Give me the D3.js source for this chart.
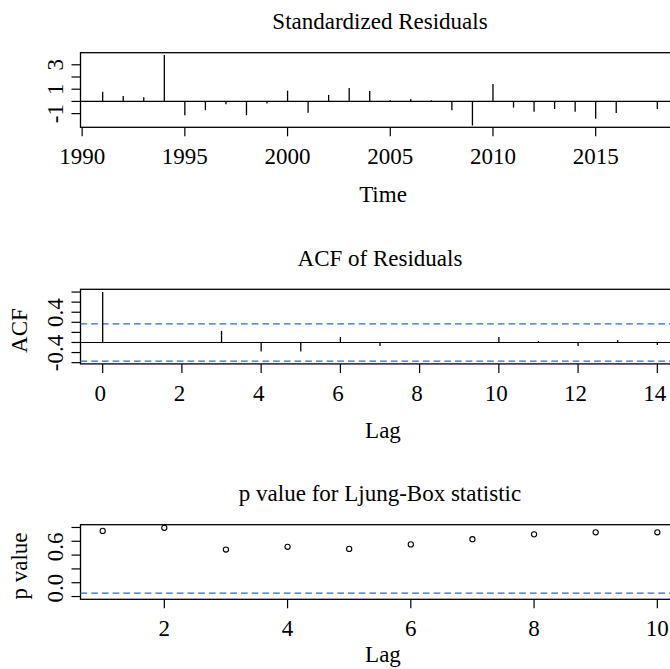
<!DOCTYPE html>
<html>
<head>
<meta charset="utf-8">
<script src="https://cdn.jsdelivr.net/npm/d3@7"></script>
<style>
  body { margin: 0; background: #fff; }
  text { font-family: "Liberation Serif", "Times New Roman", "DejaVu Serif", serif; fill: #000; }
</style>
</head>
<body>
<div id="chart"></div>
<script>
// ---- data ----
var years = d3.range(1991, 2019);
var stdResid = [0.80, 0.45, 0.34, 3.80, -1.13, -0.72, -0.23, -1.13, -0.17, 0.88,
                -0.92, 0.53, 1.10, 0.85, 0.09, 0.20, 0.09, -0.72, -1.98, 1.43,
                -0.51, -0.84, -0.62, -0.84, -1.41, -0.94, 0.02, -0.62];
var residTicks = [-1, 0, 1, 2, 3];
var residLabels = [-1, 1, 3];
var yearTicks = [1990, 1995, 2000, 2005, 2010, 2015];

var acfLags = d3.range(0, 15);
var acfValues = [1.0, 0.01, -0.01, 0.23, -0.18, -0.18, 0.11, -0.07, 0.005, -0.01,
                 0.11, 0.03, -0.07, 0.05, -0.05];
var acfBound = 0.37;            // 1.96/sqrt(n)
var acfTicks = [-0.4, -0.2, 0, 0.2, 0.4, 0.6, 0.8, 1.0];
var acfLabels = [-0.4, 0.4];
var acfLagTicks = [0, 2, 4, 6, 8, 10, 12, 14];

var pLags = d3.range(1, 11);
var pValues = [0.95, 0.995, 0.68, 0.72, 0.69, 0.755, 0.83, 0.90, 0.93, 0.93];
var pTicks = [0, 0.2, 0.4, 0.6, 0.8, 1.0];
var pLabels = [0.0, 0.6];
var pLagTicks = [2, 4, 6, 8, 10];
var pLevel = 0.05;

// ---- layout ----
var W = 670, H = 669;
var left = 80.5, right = 679.5;     // plot box runs past the window on the right
var boxH = 74.6;
var fs = 23;

var svg = d3.select("#chart").append("svg")
    .attr("width", W).attr("height", H);
svg.append("rect").attr("width", W).attr("height", H).attr("fill", "#fff");

function pad(lo, hi) { var r = hi - lo; return [lo - 0.04 * r, hi + 0.04 * r]; }

function panel(top, xdom, ydom, opt) {
    var x = d3.scaleLinear().domain(xdom).range([left, right]);
    var y = d3.scaleLinear().domain(ydom).range([top + boxH, top]);
    var g = svg.append("g");

    // title
    g.append("text").attr("x", (left + right) / 2).attr("y", top - 23.4)
        .attr("text-anchor", "middle").style("font-size", fs + "px").text(opt.title);

    // x axis
    var xa = g.append("g").attr("transform", "translate(0," + (top + boxH) + ")");
    opt.xticks.forEach(function (t) {
        xa.append("line").attr("x1", x(t)).attr("x2", x(t)).attr("y1", 0).attr("y2", 9)
            .attr("stroke", "#000").attr("stroke-width", 1.2);
        xa.append("text").attr("x", x(t) + (opt.xshift || 0)).attr("y", 37)
            .attr("text-anchor", "middle").style("font-size", fs + "px").text(t);
    });
    g.append("text").attr("x", (left + right) / 2 + 3).attr("y", top + boxH + (opt.xlabOff || 74.4))
        .attr("text-anchor", "middle").style("font-size", fs + "px").text(opt.xlab);

    // y axis
    opt.yticks.forEach(function (t) {
        g.append("line").attr("x1", left - 9).attr("x2", left).attr("y1", y(t)).attr("y2", y(t))
            .attr("stroke", "#000").attr("stroke-width", 1.2);
    });
    opt.ylabels.forEach(function (t) {
        var yy = y(t) + opt.yshift;
        g.append("text").attr("transform", "translate(63.3," + yy + ") rotate(-90)")
            .attr("text-anchor", "middle").style("font-size", fs + "px")
            .text(opt.fmt ? d3.format(".1f")(t).replace("−", "-") : t);
    });
    if (opt.ylab) {
        g.append("text").attr("transform", "translate(26.7," + ((top + top + boxH) / 2 + 4) + ") rotate(-90)")
            .attr("text-anchor", "middle").style("font-size", fs + "px").text(opt.ylab);
    }

    // box
    g.append("rect").attr("x", left).attr("y", top).attr("width", right - left).attr("height", boxH)
        .attr("fill", "none").attr("stroke", "#000").attr("stroke-width", 1.3);

    return { x: x, y: y, g: g };
}

// ---- panel 1: standardized residuals ----
var p1 = panel(52.7, pad(d3.min(years), d3.max(years)), [-2.12, 3.99], {
    title: "Standardized Residuals", xlab: "Time",
    xticks: yearTicks, yticks: residTicks, ylabels: residLabels, yshift: 0
});
p1.g.append("line").attr("x1", left).attr("x2", right)
    .attr("y1", p1.y(0)).attr("y2", p1.y(0)).attr("stroke", "#000").attr("stroke-width", 1.2);
p1.g.selectAll("line.spike").data(stdResid).enter().append("line")
    .attr("class", "spike")
    .attr("x1", function (d, i) { return p1.x(years[i]); })
    .attr("x2", function (d, i) { return p1.x(years[i]); })
    .attr("y1", p1.y(0)).attr("y2", function (d) { return p1.y(d); })
    .attr("stroke", "#000").attr("stroke-width", 1.3);

// ---- panel 2: ACF of residuals ----
var p2 = panel(289.3, pad(0, d3.max(acfLags)), pad(-acfBound, 1), {
    title: "ACF of Residuals", xlab: "Lag", ylab: "ACF",
    xticks: acfLagTicks, yticks: acfTicks, ylabels: acfLabels, yshift: -9.7, fmt: true, xshift: -2.5
});
p2.g.append("line").attr("x1", left).attr("x2", right)
    .attr("y1", p2.y(0)).attr("y2", p2.y(0)).attr("stroke", "#000").attr("stroke-width", 1.2);
[acfBound, -acfBound].forEach(function (b) {
    p2.g.append("line").attr("x1", left).attr("x2", right)
        .attr("y1", p2.y(b)).attr("y2", p2.y(b))
        .attr("stroke", "#3366cc").attr("stroke-width", 1.4).attr("stroke-dasharray", "6.7,4");
});
p2.g.selectAll("line.spike").data(acfValues).enter().append("line")
    .attr("class", "spike")
    .attr("x1", function (d, i) { return p2.x(acfLags[i]); })
    .attr("x2", function (d, i) { return p2.x(acfLags[i]); })
    .attr("y1", p2.y(0)).attr("y2", function (d) { return p2.y(d); })
    .attr("stroke", "#000").attr("stroke-width", 1.3);

// ---- panel 3: Ljung-Box p values ----
var p3 = panel(524.7, pad(1, d3.max(pLags)), pad(0, 1), {
    title: "p value for Ljung-Box statistic", xlab: "Lag", ylab: "p value",
    xticks: pLagTicks, yticks: pTicks, ylabels: pLabels, yshift: -8.3, fmt: true, xlabOff: 63
});
p3.g.append("line").attr("x1", left).attr("x2", right)
    .attr("y1", p3.y(pLevel)).attr("y2", p3.y(pLevel))
    .attr("stroke", "#3366cc").attr("stroke-width", 1.4).attr("stroke-dasharray", "6.7,4");
p3.g.selectAll("circle").data(pValues).enter().append("circle")
    .attr("cx", function (d, i) { return p3.x(pLags[i]); })
    .attr("cy", function (d) { return p3.y(d); })
    .attr("r", 2.6).attr("fill", "none").attr("stroke", "#000").attr("stroke-width", 1.1);
</script>
</body>
</html>
